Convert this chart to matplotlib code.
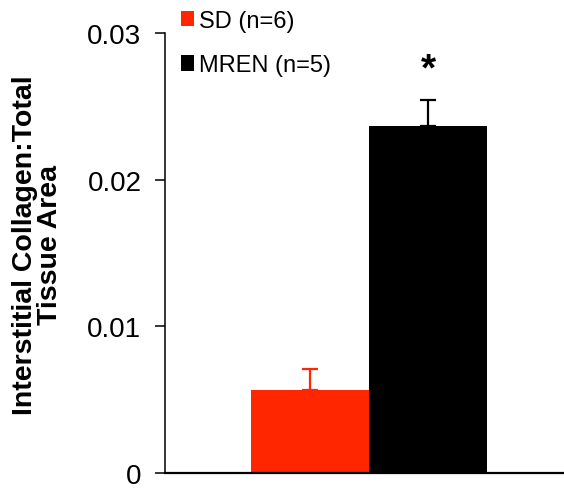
import numpy as np
import matplotlib
matplotlib.use("Agg")
import matplotlib.pyplot as plt

plt.rcParams['font.family'] = ['Liberation Sans', 'DejaVu Sans']

# data
groups = ['SD (n=6)', 'MREN (n=5)']
means = [0.00568, 0.02364]
sem = [0.00143, 0.00179]
colors = ['#ff2600', '#000000']
star_label = '*'

fig = plt.figure(figsize=(5.64, 4.89), dpi=100)
ax = fig.add_axes([165 / 564, 15 / 489, 399 / 564, 440 / 489])

x = np.arange(len(groups))
for i in range(len(groups)):
    ax.bar(x[i], means[i], width=1.0, color=colors[i], label=groups[i])
    ax.errorbar(x[i], means[i], yerr=[[0], [sem[i]]], fmt='none',
                ecolor=colors[i], elinewidth=1.6, capsize=5.5, capthick=1.6)

# significance star over the MREN bar
ax.text(x[1], means[1] + sem[1] + 0.0021, star_label, ha='center', va='center',
        fontsize=28, fontweight='bold')

ax.set_xlim(-1.229, 2.152)
ax.set_ylim(0, 0.03)
ax.set_yticks([0, 0.01, 0.02, 0.03])
ax.set_yticklabels(['0', '0.01', '0.02', '0.03'])
ax.set_xticks([])
ax.tick_params(axis='y', direction='out', length=7, width=1.1, pad=10,
               labelsize=20)

for side in ['top', 'right']:
    ax.spines[side].set_visible(False)
ax.spines['left'].set_linewidth(1.1)
ax.spines['bottom'].set_linewidth(1.6)

ax.set_ylabel('Interstitial Collagen:Total\nTissue Area', fontsize=20.5,
              fontweight='bold', linespacing=0.95)
ax.yaxis.set_label_coords(-0.255, 0.52)

ax.legend(loc='upper left', bbox_to_anchor=(181 / 564, 1 - 11 / 489),
          bbox_transform=fig.transFigure, frameon=False, fontsize=17,
          handlelength=0.55, handleheight=0.62, handletextpad=0.22,
          labelspacing=0.95, borderpad=0, borderaxespad=0)

fig.savefig('out.png', dpi=100)
